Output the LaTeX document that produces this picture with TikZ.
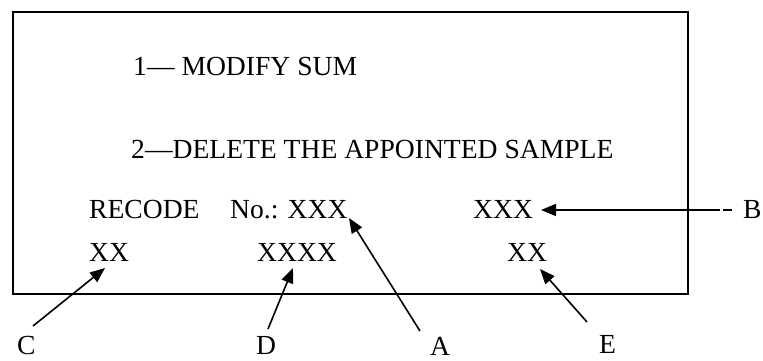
\documentclass[tikz,border=0pt]{standalone}
\usepackage{fontspec}
\setmainfont{Liberation Serif}
\usetikzlibrary{arrows.meta}
\begin{document}
\begin{tikzpicture}[x=1pt,y=-1pt,
  txt/.style={inner sep=0pt,anchor=base west,font=\fontsize{27.6}{30}\selectfont},
  frame/.style={line width=2pt},
  pointer/.style={line width=1.6pt,-{Triangle[length=15pt,width=12pt]}}]
\useasboundingbox (0,0) rectangle (763,360);
% display frame
\draw[frame] (13,12) rectangle (688,294);
% menu lines
\node[txt] (m1) at (133,75) {1— MODIFY SUM};
\node[txt] (m2) at (131,158) {2—DELETE THE APPOINTED SAMPLE};
% record fields
\node[txt] (rec) at (89,218) {RECODE};
\node[txt] (no) at (230,218) {No.: XXX};
\node[txt] (xb) at (473,218) {XXX};
\node[txt] (xc) at (89,261) {XX};
\node[txt] (xd) at (257,261) {XXXX};
\node[txt] (xe) at (507,261) {XX};
% callout letters
\node[txt] (lC) at (17,354) {C};
\node[txt] (lD) at (256,354) {D};
\node[txt] (lA) at (430,355.5) {A};
\node[txt] (lE) at (599,353) {E};
\node[txt] (lB) at (743,218) {B};
% arrow ends
\coordinate (cS) at (33,326);  \coordinate (cT) at (105,268);
\coordinate (dS) at (268,329); \coordinate (dT) at (293,268);
\coordinate (aS) at (420,331); \coordinate (aT) at (349,218);
\coordinate (eS) at (587,322); \coordinate (eT) at (540,269);
\coordinate (bS) at (720,210); \coordinate (bT) at (541,210);
\coordinate (b1) at (723,210); \coordinate (b2) at (732,210);
\draw[pointer] (cS) -- (cT);
\draw[pointer] (dS) -- (dT);
\draw[pointer] (aS) -- (aT);
\draw[pointer] (eS) -- (eT);
\draw[pointer] (bS) -- (bT);
\draw[line width=1.6pt] (b1) -- (b2);
\end{tikzpicture}
\end{document}
